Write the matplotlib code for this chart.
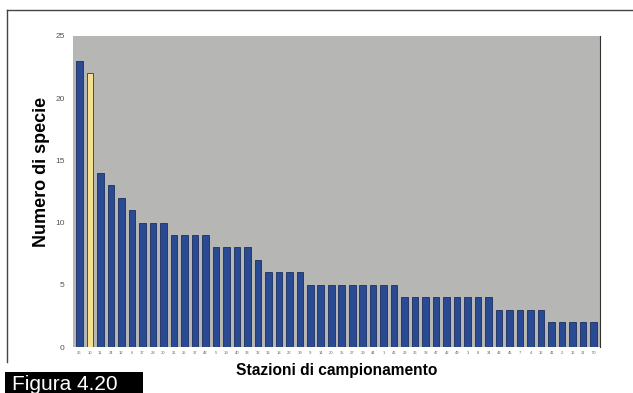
import matplotlib
matplotlib.use("Agg")
import matplotlib.pyplot as plt
from matplotlib.lines import Line2D
from matplotlib.patches import Rectangle

plt.rcParams["font.family"] = ["Liberation Sans", "DejaVu Sans"]

stations = ["26", "10", "11", "24", "12", "6", "17", "28", "30", "21",
            "25", "37", "48", "5", "19", "40", "33", "32", "13", "18",
            "22", "39", "9", "14", "20", "35", "27", "29", "44", "1",
            "46", "23", "36", "38", "47", "42", "49", "3", "8", "34",
            "43", "45", "7", "4", "15", "41", "2", "16", "31", "50"]
species = [23, 22, 14, 13, 12, 11, 10, 10, 10, 9,
           9, 9, 9, 8, 8, 8, 8, 7, 6, 6,
           6, 6, 5, 5, 5, 5, 5, 5, 5, 5,
           5, 4, 4, 4, 4, 4, 4, 4, 4, 4,
           3, 3, 3, 3, 3, 2, 2, 2, 2, 2]
highlight = "10"
yticks = [0, 5, 10, 15, 20, 25]

fig = plt.figure(figsize=(6.33, 3.93), dpi=100)
fig.patch.set_facecolor("white")
ax = fig.add_axes([73/633, 1-347/393, (600-73)/633, (347-36)/393])
ax.set_facecolor("#b6b6b4")

x = list(range(len(stations)))
colors = ["#f4e28e" if s == highlight else "#2b4a94" for s in stations]
edges = ["#3a3a2a" if s == highlight else "#1c2f5e" for s in stations]
ax.bar(x, species, width=0.62, color=colors, edgecolor=edges, linewidth=0.6)

ax.set_xlim(-0.6, len(stations) - 0.4)
ax.set_ylim(0, 25)
ax.set_yticks(yticks)
ax.set_yticklabels([str(t) for t in yticks], fontsize=6, color="#555555")
ax.set_xticks(x)
ax.set_xticklabels(stations, fontsize=3, color="#666666")
ax.tick_params(axis="both", length=0, pad=3)
ax.tick_params(axis="y", pad=6)
for side in ["top", "left", "bottom"]:
    ax.spines[side].set_visible(False)
ax.spines["right"].set_color("#333333")
ax.spines["right"].set_linewidth(0.8)

fig.text(42/633, 1-172/393, "Numero di specie", fontsize=13, fontweight="bold",
         rotation=90, ha="center", va="center")
fig.text(337/633, 1-370/393, "Stazioni di campionamento", fontsize=11.2,
         fontweight="bold", ha="center", va="center")

# page frame lines
fig.add_artist(Line2D([7/633, 1.0], [1-10/393, 1-10/393], color="#444444", lw=1.0))
fig.add_artist(Line2D([7/633, 7/633], [1-10/393, 1-362/393], color="#444444", lw=1.0))

# figure caption box
fig.add_artist(Rectangle((5/633, 0), (143-5)/633, 21/393, transform=fig.transFigure,
                         facecolor="black", edgecolor="none"))
fig.text(12/633, 3/393, "Figura 4.20", color="white", fontsize=15,
         ha="left", va="baseline")

fig.savefig("out.png", dpi=100, facecolor="white")
